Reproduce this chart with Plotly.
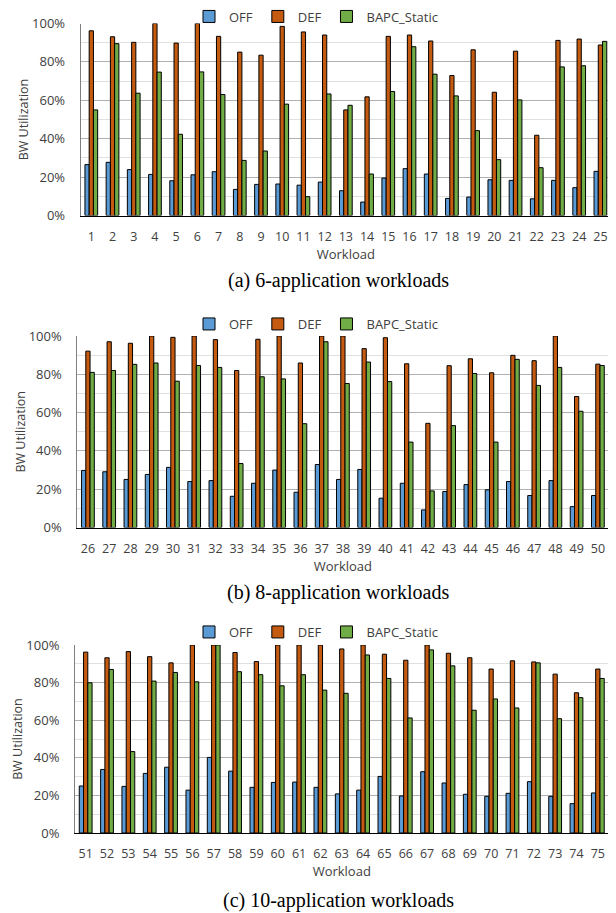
import plotly.graph_objects as go

# ---------------- data ----------------
workloads_a = [str(i) for i in range(1, 26)]
off_a = [26.5, 27.7, 23.9, 21.4, 18.1, 21.2, 22.8, 13.6, 16.2, 16.4, 15.8, 17.4, 12.9,
         7.0, 19.5, 24.4, 21.6, 8.9, 9.6, 18.6, 18.3, 8.7, 18.3, 14.5, 23.0]
def_a = [96.2, 93.1, 90.2, 100.0, 89.8, 100.0, 93.3, 85.1, 83.5, 98.5, 95.6, 94.0, 55.0,
         61.8, 93.3, 94.0, 90.9, 72.9, 86.3, 64.2, 85.6, 41.8, 91.2, 91.9, 88.8]
bapc_a = [55.0, 89.5, 63.7, 74.7, 42.3, 74.8, 63.0, 28.7, 33.6, 58.0, 9.8, 63.3, 57.4,
          21.6, 64.6, 87.9, 73.6, 62.3, 44.2, 29.1, 60.2, 24.9, 77.4, 78.0, 90.7]

workloads_b = [str(i) for i in range(26, 51)]
off_b = [29.8, 29.1, 25.1, 27.7, 31.4, 24.0, 24.5, 16.3, 23.1, 30.0, 18.4, 32.9, 25.1,
         30.3, 15.3, 23.1, 9.2, 18.8, 22.4, 19.7, 24.0, 16.7, 24.5, 10.9, 16.7]
def_b = [92.1, 97.0, 96.2, 100.0, 99.3, 100.0, 98.1, 82.0, 98.3, 100.0, 85.9, 100.0, 100.0,
         93.4, 99.1, 85.5, 54.4, 84.5, 88.1, 80.8, 89.9, 87.1, 100.0, 68.4, 85.3]
bapc_b = [81.0, 82.0, 85.2, 85.9, 76.4, 84.6, 83.6, 33.4, 78.7, 77.6, 54.2, 97.0, 75.2,
          86.4, 76.2, 44.6, 19.1, 53.2, 80.4, 44.6, 87.8, 74.2, 83.6, 60.7, 84.6]

workloads_c = [str(i) for i in range(51, 76)]
off_c = [25.0, 33.8, 24.8, 31.7, 35.0, 22.8, 40.2, 32.9, 24.3, 26.9, 27.1, 24.3, 20.8,
         22.8, 30.1, 19.7, 32.6, 26.6, 20.6, 19.5, 21.1, 27.3, 19.5, 15.6, 21.3]
def_c = [96.2, 93.2, 96.5, 93.8, 90.5, 100.0, 100.0, 96.0, 91.2, 100.0, 100.0, 100.0, 97.9,
         100.0, 95.1, 91.9, 100.0, 95.6, 93.2, 87.2, 91.6, 91.0, 84.5, 74.6, 87.2]
bapc_c = [79.9, 87.0, 43.3, 80.8, 85.4, 80.4, 100.0, 85.8, 84.2, 78.3, 84.2, 76.0, 74.3,
          94.7, 82.2, 61.2, 97.4, 88.9, 65.3, 71.3, 66.5, 90.5, 60.8, 72.0, 82.2]

series_names = ["OFF", "DEF", "BAPC_Static"]
colors = ["#5B9BD5", "#C55A11", "#70AD47"]
y_tick_vals = [0, 20, 40, 60, 80, 100]
y_tick_text = ["0%", "20%", "40%", "60%", "80%", "100%"]
captions = ["(a) 6-application workloads", "(b) 8-application workloads",
            "(c) 10-application workloads"]

panels = [
    (workloads_a, [off_a, def_a, bapc_a]),
    (workloads_b, [off_b, def_b, bapc_b]),
    (workloads_c, [off_c, def_c, bapc_c]),
]

# ---------------- layout geometry (page pixels; page has 8px body margin) ----------------
W, H = 616, 913
OFF = 8
def px(p):
    return (p - OFF) / W
def py(p):
    return 1 - (p - OFF) / H

x_domains = [[px(80.7), px(611)], [px(77.3), px(608.5)], [px(75), px(608.5)]]
y_domains = [[py(215.5), py(23.5)], [py(527.5), py(336)], [py(833), py(645)]]
legend_y = [py(16.5), py(324), py(632)]
caption_y = [py(280), py(592), py(900)]
caption_x = px(338)
legend_x = px(316)

FONT = "Open Sans"
fig = go.Figure()

legend_keys = ["legend", "legend2", "legend3"]
for pi, (cats, vals) in enumerate(panels):
    suffix = "" if pi == 0 else str(pi + 1)
    for si, name in enumerate(series_names):
        fig.add_trace(go.Bar(
            x=cats, y=vals[si], name=name,
            marker=dict(color=colors[si], line=dict(color="#000000", width=1)),
            xaxis="x" + suffix, yaxis="y" + suffix,
            legend=legend_keys[pi], showlegend=True,
        ))

layout = dict(
    width=W, height=H,
    margin=dict(l=0, r=0, t=0, b=0, autoexpand=False),
    paper_bgcolor="white", plot_bgcolor="white",
    barmode="group", bargap=0.4, bargroupgap=0,
    font=dict(family=FONT, color="#404040", size=13),
    annotations=[],
)

for pi in range(3):
    suffix = "" if pi == 0 else str(pi + 1)
    layout["xaxis" + suffix] = dict(
        domain=x_domains[pi], anchor="y" + suffix, type="category", automargin=False,
        showline=True, linecolor="#000000", linewidth=1.3,
        showgrid=False, ticks="", ticklabelstandoff=9,
        tickfont=dict(family=FONT, size=12.5, color="#404040"),
        title=dict(text="Workload", standoff=3,
                   font=dict(family=FONT, size=13, color="#404040")),
    )
    layout["yaxis" + suffix] = dict(
        domain=y_domains[pi], anchor="x" + suffix, automargin=False,
        range=[0, 100], tickmode="array", tickvals=y_tick_vals, ticktext=y_tick_text,
        showline=True, linecolor="#7f7f7f", linewidth=1,
        showgrid=True, gridcolor="#b0b0b0", gridwidth=1,
        minor=dict(dtick=10, showgrid=True, gridcolor="#e0e0e0", gridwidth=1),
        zeroline=False, ticks="", ticklabelstandoff=12,
        tickfont=dict(family=FONT, size=13, color="#404040"),
        title=dict(text="BW Utilization", standoff=0,
                   font=dict(family=FONT, size=12.5, color="#404040")),
    )
    layout[legend_keys[pi]] = dict(
        orientation="h", x=legend_x, xanchor="center", y=legend_y[pi], yanchor="middle",
        font=dict(family=FONT, size=13, color="#404040"),
        itemwidth=30, bgcolor="rgba(0,0,0,0)", traceorder="normal",
    )
    layout["annotations"].append(dict(
        text=captions[pi], xref="paper", yref="paper", x=caption_x, y=caption_y[pi],
        xanchor="center", yanchor="middle", showarrow=False,
        font=dict(family="Liberation Serif", size=20, color="#000000"),
    ))

fig.update_layout(**layout)
fig.write_html("out.html")
